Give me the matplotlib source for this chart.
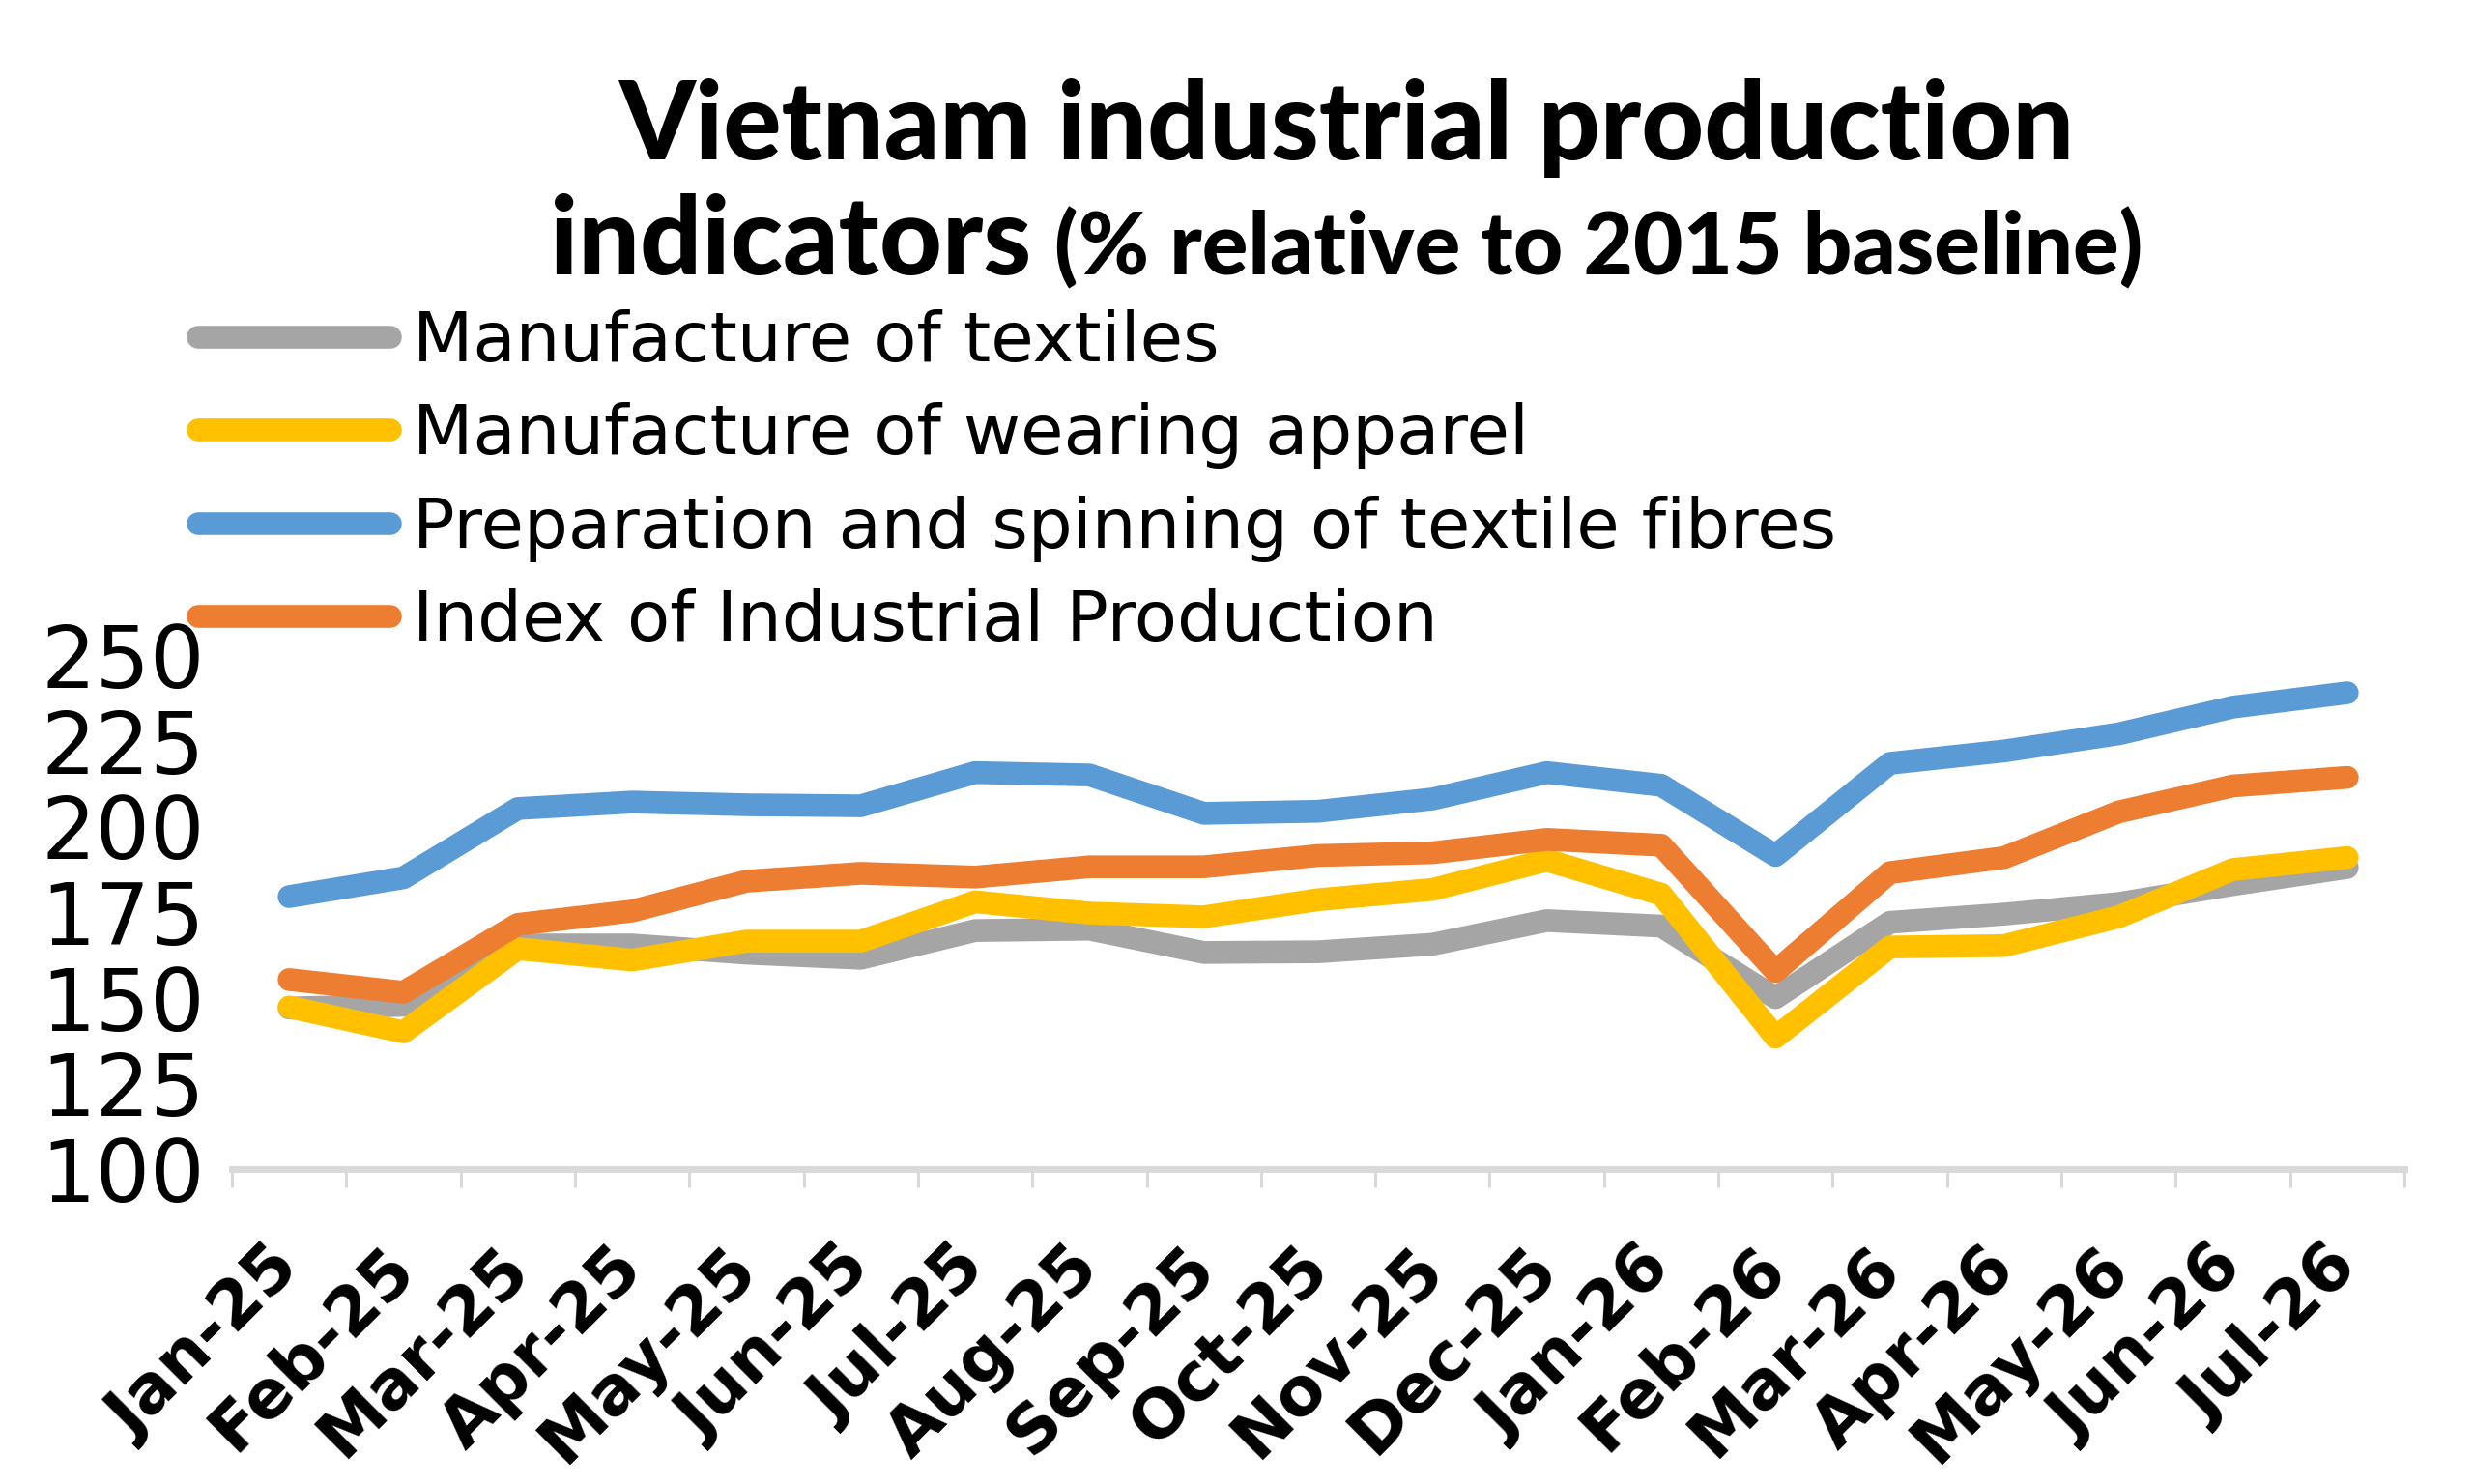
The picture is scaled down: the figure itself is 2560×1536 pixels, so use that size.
import numpy as np
import matplotlib
matplotlib.use("Agg")
import matplotlib.pyplot as plt
from matplotlib import font_manager

months = ["Jan-25", "Feb-25", "Mar-25", "Apr-25", "May-25", "Jun-25", "Jul-25",
          "Aug-25", "Sep-25", "Oct-25", "Nov-25", "Dec-25", "Jan-26", "Feb-26",
          "Mar-26", "Apr-26", "May-26", "Jun-26", "Jul-26"]

textiles = [147.0, 147.8, 165.4, 165.4, 163.0, 161.5, 169.6, 170.0, 163.2, 163.4,
            165.6, 172.5, 170.9, 150.0, 172.0, 174.4, 177.5, 183.0, 188.0]
apparel = [147.3, 140.0, 164.3, 161.0, 166.5, 166.5, 178.0, 174.7, 173.6, 178.6,
           181.6, 190.1, 180.2, 138.5, 164.8, 165.2, 173.6, 187.4, 190.9]
fibres = [179.5, 185.0, 205.2, 207.1, 206.3, 206.0, 215.7, 215.0, 203.8, 204.4,
          208.0, 215.7, 212.0, 191.5, 218.4, 222.0, 227.0, 234.8, 239.0]
iip = [155.3, 151.6, 171.4, 175.3, 184.0, 186.3, 185.2, 188.2, 188.2, 191.5,
       192.3, 196.2, 194.5, 157.7, 186.5, 190.9, 204.2, 211.8, 214.3]

labels = ["Manufacture of textiles", "Manufacture of wearing apparel",
          "Preparation and spinning of textile fibres", "Index of Industrial Production"]
colors = ["#A5A5A5", "#FFC000", "#5B9BD5", "#ED7D31"]
yticks = [100, 125, 150, 175, 200, 225, 250]

# heavy font for the title if one is around
heavy = None
for fam in ["Lato", "Roboto", "Inter", "Open Sans"]:
    for f in font_manager.fontManager.ttflist:
        if f.name == fam and isinstance(f.weight, int) and f.weight >= 800 and f.style == "normal":
            heavy = (fam, f.weight)
            break
    if heavy:
        break
if heavy:
    tfont = dict(family=heavy[0], fontweight=heavy[1])
    big, small = 81, 64
else:
    tfont = dict(family="DejaVu Sans", fontweight="bold")
    big, small = 64, 50

fig = plt.figure(figsize=(25.6, 15.36), dpi=100)
ax = fig.add_axes([240/2560, 1-1210/1536, (2488-240)/2560, (1210-678)/1536])

x = np.arange(len(months))
for ser, lab, col in zip([textiles, apparel, fibres, iip], labels, colors):
    ax.plot(x, ser, color=col, lw=17, label=lab, solid_capstyle="round")

ax.set_xlim(-0.5, len(months) - 0.5)
ax.set_ylim(100, 250)
ax.set_yticks(yticks)
ax.set_yticklabels([str(v) for v in yticks], fontsize=64)
ax.tick_params(axis="y", length=0, pad=20)

# ticks on category boundaries, labels at centres
ax.set_xticks(np.arange(-0.5, len(months)), minor=False)
ax.set_xticklabels([])
ax.set_xticks(x, minor=True)
ax.set_xticklabels(months, minor=True, rotation=45, ha="right", va="center",
                   rotation_mode="anchor", fontsize=50, fontweight="bold")
ax.tick_params(axis="x", which="major", length=14, width=2.2, color="#D9D9D9", direction="out")
ax.tick_params(axis="x", which="minor", length=0, pad=66)

for s in ["top", "right", "left"]:
    ax.spines[s].set_visible(False)
ax.spines["bottom"].set_color("#D9D9D9")
ax.spines["bottom"].set_linewidth(5)

leg = ax.legend(loc="upper left", bbox_to_anchor=(205/2560, 1-320/1536),
                bbox_transform=fig.transFigure, frameon=False, fontsize=52,
                handlelength=2.75, handletextpad=0.33, labelspacing=0.38,
                borderpad=0, borderaxespad=0)
for h in leg.get_lines():
    h.set_linewidth(17)
    h.set_solid_capstyle("round")

# title
cx = 1393/2560
fig.text(cx, 1-165/1536, "Vietnam industrial production", ha="center", va="baseline",
         fontsize=big, **tfont)
t1 = fig.text(0, 1-284/1536, "indicators", ha="left", va="baseline",
              fontsize=big, **tfont)
t2 = fig.text(0, 1-284/1536, "(% relative to 2015 baseline)", ha="left", va="baseline",
              fontsize=small, **tfont)
fig.canvas.draw()
r = fig.canvas.get_renderer()
w1 = t1.get_window_extent(r).width / 2560
w2 = t2.get_window_extent(r).width / 2560
gap = 24/2560
start = cx - (w1 + gap + w2) / 2
t1.set_x(start)
t2.set_x(start + w1 + gap)

fig.savefig("out.png", dpi=100)
